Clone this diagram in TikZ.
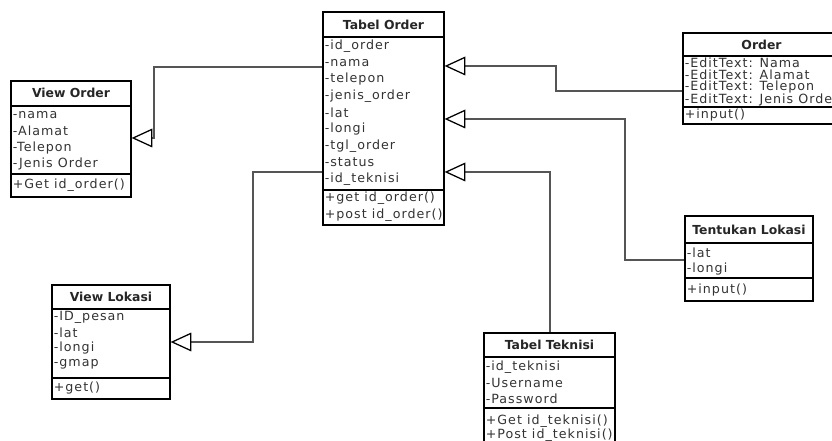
\documentclass[tikz,border=0pt]{standalone}
\usepackage{fontspec}
\setmainfont{DejaVu Sans}
\newfontfamily\rowfamily[LetterSpace=8]{DejaVu Sans}
\usetikzlibrary{arrows.meta}
\definecolor{conncol}{HTML}{555555}
\definecolor{txtcol}{HTML}{333333}
\newcommand\umlbox[7]{%
  \node[box, minimum width={(#4-#2)*0.75pt}, minimum height={(#5-#3)*0.75pt}] (#1) at ({(#2+#4)/2},{(#3+#5)/2}) {};
  \draw[sepline] (#1.west |- 0,#6) -- (#1.east |- 0,#6);
  \draw[sepline] (#1.west |- 0,#7) -- (#1.east |- 0,#7);
}
\tikzset{
  box/.style={draw=black, line width=0.95pt, fill=white, inner sep=0pt, rectangle},
  sepline/.style={draw=black, line width=0.95pt},
  row/.style={anchor=west, inner sep=0pt, text=txtcol, font=\rowfamily\fontsize{9.5pt}{11pt}\selectfont},
  ttl/.style={anchor=center, inner sep=0pt, text=black!85, font=\bfseries\fontsize{9.3pt}{11pt}\selectfont},
  conn/.style={draw=conncol, line width=0.8pt, -{Triangle[open, color=black, line width=0.95pt, length=15.5pt, width=14pt]}},
}
\begin{document}
\begin{tikzpicture}[x=0.75pt, y=-0.75pt]
\useasboundingbox (0,0) rectangle (832,441);
\fill[white] (0,0) rectangle (832,441);
\clip (0,0) rectangle (832,441);

% ---------- View Order
\umlbox{vo}{11}{81}{131}{197}{106}{174}
\node[ttl] (vot) at (71,93) {View Order};
\node[row] (vo1) at (12.5,115) {-nama};
\node[row] (vo2) at (12.5,131) {-Alamat};
\node[row] (vo3) at (12.5,148) {-Telepon};
\node[row] (vo4) at (12.5,164) {-Jenis Order};
\node[row] (vo5) at (12.5,185.5) {+Get id\_order()};

% ---------- Tabel Order
\umlbox{to}{323}{12}{444}{225}{37}{190}
\node[ttl] (tot) at (383.5,25) {Tabel Order};
\node[row] (to1) at (324.5,46) {-id\_order};
\node[row] (to2) at (324.5,63) {-nama};
\node[row] (to3) at (324.5,79.5) {-telepon};
\node[row] (to4) at (324.5,96) {-jenis\_order};
\node[row] (to5) at (324.5,113) {-lat};
\node[row] (to6) at (324.5,129.5) {-longi};
\node[row] (to7) at (324.5,146) {-tgl\_order};
\node[row] (to8) at (324.5,162.5) {-status};
\node[row] (to9) at (324.5,179) {-id\_teknisi};
\node[row] (to10) at (324.5,198.5) {+get id\_order()};
\node[row] (to11) at (324.5,215) {+post id\_order()};

% ---------- Order
\umlbox{or}{683}{33}{840}{124}{56}{107}
\node[ttl] (ort) at (761.5,44.5) {Order};
\node[row] (or1) at (684.5,62.5) {-EditText: Nama};
\node[row] (or2) at (684.5,75) {-EditText: Alamat};
\node[row] (or3) at (684.5,87.5) {-EditText: Telepon};
\node[row] (or4) at (684.5,100) {-EditText: Jenis Order};
\node[row] (or5) at (684.5,115.5) {+input()};

% ---------- Tentukan Lokasi
\umlbox{tl}{685}{216}{813}{301}{243}{278}
\node[ttl] (tlt) at (749,229.5) {Tentukan Lokasi};
\node[row] (tl1) at (686.5,253) {-lat};
\node[row] (tl2) at (686.5,269.5) {-longi};
\node[row] (tl3) at (686.5,290) {+input()};

% ---------- View Lokasi
\umlbox{vl}{52}{285}{170}{399}{309}{378}
\node[ttl] (vlt) at (111,297) {View Lokasi};
\node[row] (vl1) at (53.5,317) {-ID\_pesan};
\node[row] (vl2) at (53.5,332.5) {-lat};
\node[row] (vl3) at (53.5,348) {-longi};
\node[row] (vl4) at (53.5,364) {-gmap};
\node[row] (vl5) at (53.5,388) {+get()};

% ---------- Tabel Teknisi
\umlbox{tt}{484}{333}{615}{447}{357}{408}
\node[ttl] (ttt) at (549.5,345) {Tabel Teknisi};
\node[row] (tt1) at (485.5,367) {-id\_teknisi};
\node[row] (tt2) at (485.5,383) {-Username};
\node[row] (tt3) at (485.5,398.5) {-Password};
\node[row] (tt4) at (485.5,421) {+Get id\_teknisi()};
\node[row] (tt5) at (485.5,435.5) {+Post id\_teknisi()};

% ---------- connectors
\coordinate (k1a) at (154,67);
\coordinate (k1b) at (154,138);
\draw[conn] (to.west |- k1a) -- (k1a) -- (k1b) -- (vo.east |- k1b);

\coordinate (k2a) at (253,172);
\coordinate (k2b) at (253,342);
\draw[conn] (to.west |- k2a) -- (k2a) -- (k2b) -- (vl.east |- k2b);

\coordinate (k3a) at (556,91);
\coordinate (k3b) at (556,66);
\draw[conn] (or.west |- k3a) -- (k3a) -- (k3b) -- (to.east |- k3b);

\coordinate (k4a) at (625,260);
\coordinate (k4b) at (625,119);
\draw[conn] (tl.west |- k4a) -- (k4a) -- (k4b) -- (to.east |- k4b);

\coordinate (k5b) at (550,172);
\draw[conn] (tt.north -| k5b) -- (k5b) -- (to.east |- k5b);
\end{tikzpicture}
\end{document}
